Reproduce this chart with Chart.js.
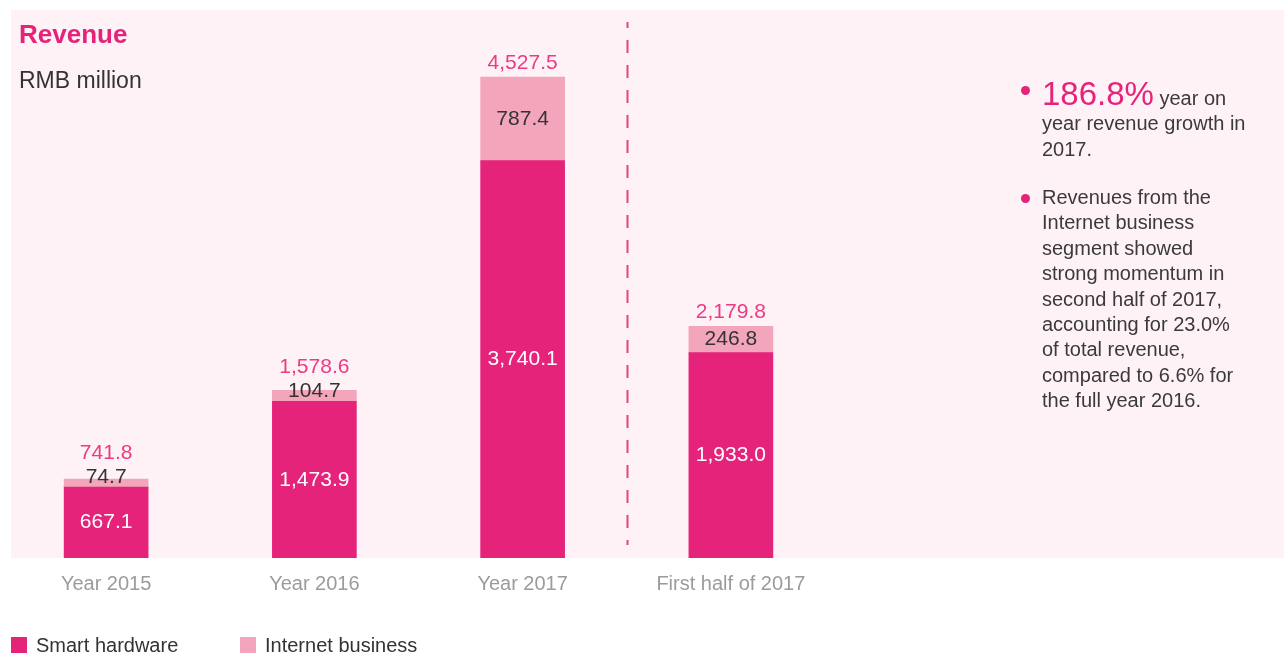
<!DOCTYPE html>
<html>
<head>
<meta charset="utf-8">
<title>Revenue</title>
<script src="https://cdn.jsdelivr.net/npm/chart.js@4/dist/chart.umd.min.js"></script>
<style>
  body { margin: 0; background: #fff; font-family: "Liberation Sans", Arial, sans-serif; }
  #wrap { position: relative; width: 1284px; height: 654px; overflow: hidden; }
  #revenueChart { position: absolute; left: 0; top: 0; }
  .title { position: absolute; left: 19px; top: 21px; font-size: 26px; line-height: 26px; font-weight: bold; color: #e6237a; }
  .unit { position: absolute; left: 19px; top: 69px; font-size: 23px; line-height: 23px; color: #333; }
  .note { position: absolute; left: 1042px; width: 240px; font-size: 20px; line-height: 25.4px; color: #3a3a3a; }
  .note .big { font-size: 33px; line-height: 0; color: #e6237a; }
  .dot { position: absolute; width: 9px; height: 9px; border-radius: 50%; background: #e6237a; }
  .legend { position: absolute; top: 633px; left: 11px; font-size: 20px; line-height: 24px; color: #333; }
  .legend span.item { position: absolute; white-space: nowrap; }
  .legend i { position: absolute; top: 4px; width: 16px; height: 16px; }
</style>
</head>
<body>
<div id="wrap">
  <canvas id="revenueChart" width="1284" height="654"></canvas>
  <div class="title">Revenue</div>
  <div class="unit">RMB million</div>

  <div class="dot" style="left:1021px; top:86px;"></div>
  <div class="note" style="top:86px;"><span class="big">186.8%</span> year on<br>year revenue growth in<br>2017.</div>

  <div class="dot" style="left:1021px; top:194px;"></div>
  <div class="note" style="top:185px;">Revenues from the<br>Internet business<br>segment showed<br>strong momentum in<br>second half of 2017,<br>accounting for 23.0%<br>of total revenue,<br>compared to 6.6% for<br>the full year 2016.</div>

  <div class="legend" id="legend"></div>
</div>

<script>
// revenue by segment, RMB million
const periods = ['Year 2015', 'Year 2016', 'Year 2017', 'First half of 2017'];
const smartHardware = [667.1, 1473.9, 3740.1, 1933.0];
const internetBusiness = [74.7, 104.7, 787.4, 246.8];

const PINK = '#e6237a';
const LIGHT_PINK = '#f2a5bb';

const fmt = v => v.toLocaleString('en-US', { minimumFractionDigits: 1, maximumFractionDigits: 1 });

// light panel behind the plot + dashed divider before the half-year bar
const panelPlugin = {
    id: 'panel',
    beforeDraw(chart) {
        const ctx = chart.ctx;
        ctx.save();
        ctx.fillStyle = '#fef2f6';
        ctx.fillRect(11, 10, 1273, chart.chartArea.bottom - 10);
        ctx.restore();
    },
    beforeDatasetsDraw(chart) {
        const ctx = chart.ctx;
        const x = chart.scales.x;
        const px = Math.round((x.getPixelForValue(2) + x.getPixelForValue(3)) / 2) + 0.5;
        ctx.save();
        ctx.strokeStyle = '#e4457f';
        ctx.lineWidth = 2;
        ctx.setLineDash([13, 12]);
        ctx.lineDashOffset = 7;
        ctx.beginPath();
        ctx.moveTo(px, 22);
        ctx.lineTo(px, 545);
        ctx.stroke();
        ctx.restore();
    }
};

// segment values and totals written on the bars
const valueLabels = {
    id: 'valueLabels',
    afterDatasetsDraw(chart) {
        const ctx = chart.ctx;
        const hw = chart.getDatasetMeta(0).data;
        const ib = chart.getDatasetMeta(1).data;
        ctx.save();
        ctx.font = '21px "Liberation Sans", Arial, sans-serif';
        ctx.textAlign = 'center';
        ctx.textBaseline = 'middle';
        hw.forEach((bar, i) => {
            const top = ib[i];
            ctx.fillStyle = '#fff';
            ctx.fillText(fmt(smartHardware[i]), bar.x, (bar.y + bar.base) / 2);

            const ibY = Math.min((top.y + top.base) / 2, top.base - 10);
            ctx.fillStyle = '#333';
            ctx.fillText(fmt(internetBusiness[i]), top.x, ibY);

            const total = smartHardware[i] + internetBusiness[i];
            ctx.fillStyle = '#ec3a83';
            ctx.fillText(fmt(total), top.x, Math.min(top.y - 14, ibY - 24));
        });
        ctx.restore();
    }
};

const chart = new Chart(document.getElementById('revenueChart'), {
    type: 'bar',
    data: {
        labels: periods,
        datasets: [
            { label: 'Smart hardware', data: smartHardware, backgroundColor: PINK },
            { label: 'Internet business', data: internetBusiness, backgroundColor: LIGHT_PINK }
        ]
    },
    options: {
        responsive: false,
        animation: false,
        devicePixelRatio: 1,
        layout: { padding: { left: 2, right: 449, top: 10, bottom: 0 } },
        datasets: { bar: { barThickness: 84, borderWidth: 0 } },
        plugins: { legend: { display: false }, tooltip: { enabled: false } },
        scales: {
            x: {
                stacked: true,
                grid: { display: false, drawTicks: false },
                border: { display: false },
                ticks: {
                    color: '#9b9b9b',
                    padding: 14,
                    maxRotation: 0,
                    font: { family: '"Liberation Sans", Arial, sans-serif', size: 20 }
                },
                afterFit(scale) { scale.height = 96; }
            },
            y: { stacked: true, display: false, min: 0, max: 5158 }
        }
    },
    plugins: [panelPlugin, valueLabels]
});

// legend from the dataset colours
const legend = document.getElementById('legend');
const legendX = [0, 229];
chart.data.datasets.forEach((ds, i) => {
    const item = document.createElement('span');
    item.className = 'item';
    item.style.left = legendX[i] + 'px';
    item.innerHTML = '<i style="left:0;background:' + ds.backgroundColor + '"></i>' +
        '<span style="padding-left:25px">' + ds.label + '</span>';
    legend.appendChild(item);
});
</script>
</body>
</html>
